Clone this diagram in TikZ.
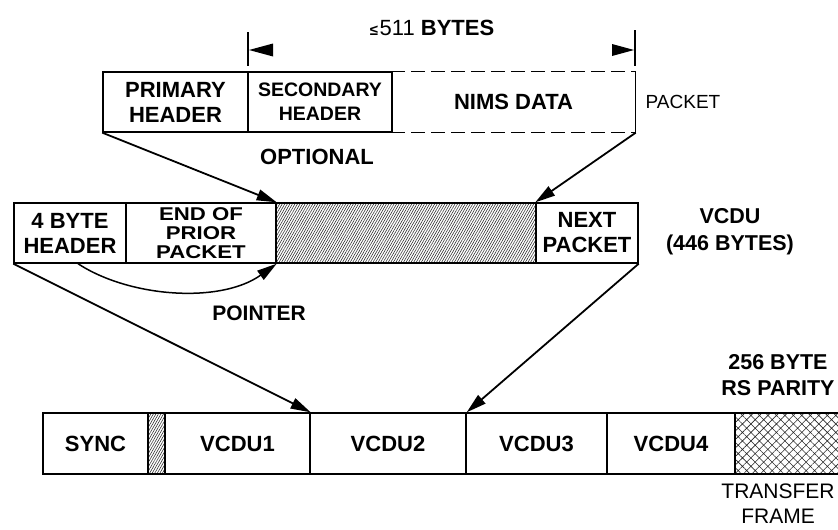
\documentclass[tikz,border=0pt]{standalone}
\usepackage{fontspec}
\setmainfont{Liberation Sans}
\newfontfamily\widesans{Liberation Sans}[FakeStretch=1.2]
\usetikzlibrary{arrows.meta,patterns.meta}
\begin{document}
\begin{tikzpicture}[x=1pt,y=-1pt,
  seg/.style={draw, line width=1.4pt, inner sep=0pt, align=center,
    minimum height=60pt, font=\bfseries\fontsize{22}{25}\selectfont},
  arr/.style={line width=1.8pt, -{Triangle[length=20pt,width=11pt]}},
  lbl/.style={align=center, inner sep=0pt},
  fine/.style={pattern={Lines[angle=60,distance=2.2pt,line width=0.55pt]}, pattern color=black!85},
  xhatch/.style={pattern={Hatch[angle=45,distance=6pt,line width=0.6pt]}, pattern color=black!85},
  dimline/.style={line width=1.2pt}
  ]
\useasboundingbox (0,0) rectangle (838,530);

% ---------- packet ----------
\node[seg, minimum width=145pt] (ph) at (175.5,102) {PRIMARY\\HEADER};
\node[seg, minimum width=144pt, font=\bfseries\fontsize{19.5}{24}\selectfont] (sh) at (320,102) {SECONDARY\\HEADER};
\node[seg, draw=none, minimum width=243pt, font=\bfseries\fontsize{22}{26}\selectfont] (nd) at (513.5,102) {NIMS DATA};
\draw[line width=1.4pt] (nd.north east) -- (nd.south east);
\draw[line width=1.4pt, dash pattern=on 14pt off 6pt] (nd.north west) -- (nd.north east);
\draw[line width=1.4pt, dash pattern=on 14pt off 6pt] (nd.south west) -- (nd.south east);
\node[lbl, font=\fontsize{19}{22}\selectfont] (pk) at (683,102) {PACKET};
\node[lbl, font=\bfseries\fontsize{22}{26}\selectfont] (opt) at (317,157) {OPTIONAL};

% dimension
\coordinate (dl1) at (248,32); \coordinate (dl2) at (248,66);
\coordinate (dr1) at (635,30); \coordinate (dr2) at (635,66);
\draw[dimline] (dl1) -- (dl2);
\draw[dimline] (dr1) -- (dr2);
\coordinate (dlt) at (249,50); \coordinate (drt) at (634,50);
\fill (dlt) -- ++(24,-6.5) -- ++(0,13) -- cycle;
\fill (drt) -- ++(-22,-6) -- ++(0,12) -- cycle;
\node[lbl] (dim) at (432,28) {{\bfseries\fontsize{15}{16}\selectfont ≤}\,{\fontsize{22}{24}\selectfont 511 \bfseries BYTES}};

% ---------- VCDU ----------
\node[seg, minimum width=112pt] (hd) at (70,233) {4 BYTE\\HEADER};
\node[seg, minimum width=150pt, font=\widesans\bfseries\fontsize{18.5}{19}\selectfont] (ep) at (201,233) {END OF\\PRIOR\\PACKET};
\node[seg, minimum width=260pt, fine] (fl) at (406,233) {};
\node[seg, minimum width=102pt] (np) at (587,233) {NEXT\\PACKET};
\node[lbl, font=\bfseries\fontsize{21.5}{27}\selectfont] (vl) at (730,232) {VCDU\\(446 BYTES)};
\node[lbl, font=\bfseries\fontsize{21}{24}\selectfont] (ptr) at (259,313) {POINTER};

% ---------- transfer frame ----------
\node[seg, minimum width=105pt, minimum height=61pt] (sy) at (95.5,443.5) {SYNC};
\node[seg, minimum width=17pt, minimum height=61pt, fine] (st) at (156.5,443.5) {};
\node[seg, minimum width=145pt, minimum height=61pt] (v1) at (237.5,443.5) {VCDU1};
\node[seg, minimum width=156pt, minimum height=61pt] (v2) at (388,443.5) {VCDU2};
\node[seg, minimum width=141pt, minimum height=61pt] (v3) at (536.5,443.5) {VCDU3};
\node[seg, minimum width=128pt, minimum height=61pt] (v4) at (671,443.5) {VCDU4};
\node[seg, minimum width=106pt, minimum height=61pt, xhatch] (rs) at (788,443.5) {};
\node[lbl, font=\bfseries\fontsize{21.5}{26}\selectfont] (rsl) at (778,375) {256 BYTE\\RS PARITY};
\node[lbl, font=\fontsize{21}{25}\selectfont] (tf) at (778,504) {TRANSFER\\FRAME};

% ---------- connectors ----------
\draw[arr] (ph.south west) -- (ep.north east);
\draw[arr] (nd.south east) -- (np.north west);
\draw[arr] (hd.south west) -- (v1.north east);
\draw[arr] (np.south east) -- (v2.north east);
\draw[arr, line width=1.5pt] ([xshift=8pt]hd.south) .. controls +(52,34) and +(-56,40) .. (ep.south east);
\end{tikzpicture}
\end{document}
